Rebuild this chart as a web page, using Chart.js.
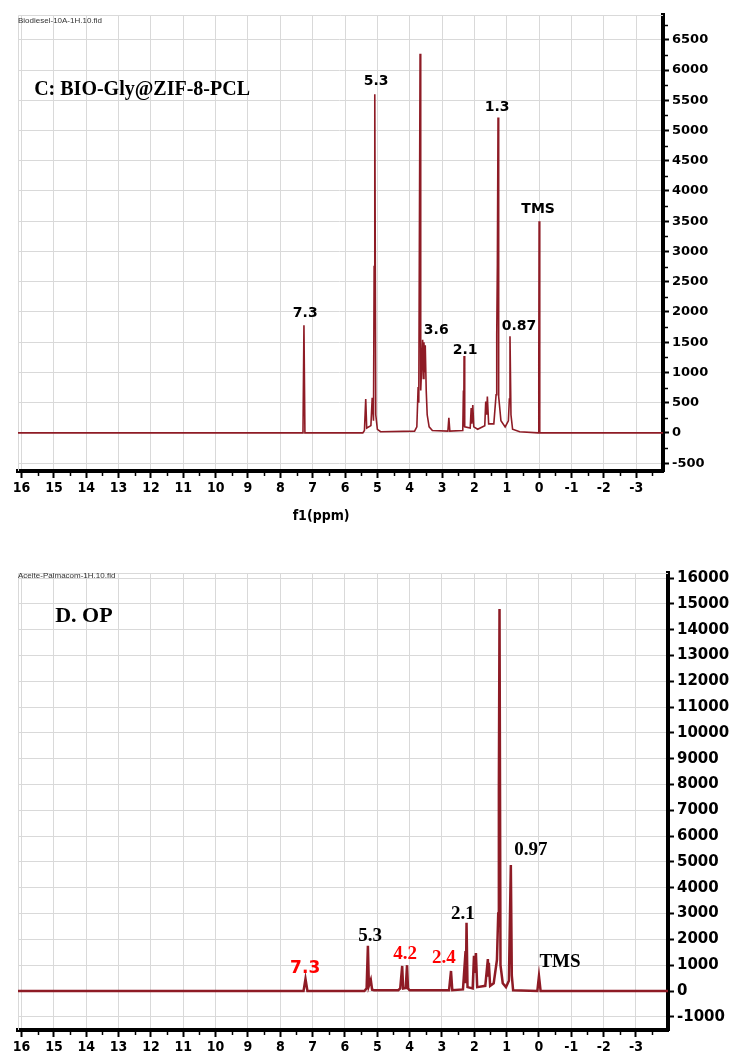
<!DOCTYPE html>
<html>
<head>
<meta charset="utf-8">
<title>1H NMR</title>
<script src="https://cdn.jsdelivr.net/npm/chart.js@4.4.0/dist/chart.umd.min.js"></script>
<style>
  html, body { margin: 0; padding: 0; background: #fff; }
  body { width: 734px; height: 1059px; position: relative; overflow: hidden; }
  canvas { position: absolute; left: 0; }
  #chartC { top: 0; }
  #chartD { top: 560px; }
</style>
</head>
<body>
<canvas id="chartC" width="734" height="530"></canvas>
<canvas id="chartD" width="734" height="499"></canvas>
<script>
// ------------------------------------------------------------
// data (ppm / intensity)
// ------------------------------------------------------------
const ppmTicks = [16, 15, 14, 13, 12, 11, 10, 9, 8, 7, 6, 5, 4, 3, 2, 1, 0, -1, -2, -3];

// C: BIO-Gly@ZIF-8-PCL
const cPpm = [16.11, 7.30, 7.27, 7.24, 5.45, 5.40, 5.36, 5.33, 5.20, 5.16, 5.12, 5.10, 5.08, 5.05, 5.00, 4.90,
  3.85, 3.78, 3.74, 3.72, 3.68, 3.66, 3.63, 3.60, 3.58, 3.56, 3.54, 3.52, 3.49, 3.46, 3.40, 3.30,
  2.82, 2.79, 2.76, 2.36, 2.34, 2.33, 2.32, 2.30, 2.13, 2.10, 2.08, 2.05, 2.02, 1.90,
  1.68, 1.65, 1.62, 1.60, 1.56, 1.40, 1.33, 1.31, 1.29, 1.27, 1.25, 1.18, 1.05,
  0.95, 0.92, 0.90, 0.87, 0.82, 0.60, 0.03, 0.01, 0.00, -0.02, -3.83];
const cInt = [0, 0, 1780, 0, 0, 40, 560, 80, 120, 580, 200, 2750, 5600, 300, 60, 20,
  30, 100, 760, 500, 6270, 700, 1100, 1540, 900, 1500, 1000, 1450, 700, 300, 100, 40,
  30, 250, 30, 40, 700, 100, 1270, 100, 80, 410, 150, 460, 100, 60,
  120, 520, 300, 600, 150, 150, 630, 1620, 2800, 5215, 600, 200, 100,
  200, 560, 1600, 300, 60, 20, 0, 1150, 3500, 0, 0];
const cYTicks = [-500, 0, 500, 1000, 1500, 2000, 2500, 3000, 3500, 4000, 4500, 5000, 5500, 6000, 6500];

// D. OP
const dPpm = [16.11, 7.28, 7.22, 7.16, 5.40, 5.33, 5.29, 5.26, 5.20, 5.16, 5.10,
  4.35, 4.29, 4.23, 4.20, 4.12, 4.08, 4.05, 4.00, 2.78, 2.72, 2.68,
  2.35, 2.27, 2.26, 2.24, 2.21, 2.05, 2.01, 1.98, 1.95, 1.91,
  1.66, 1.58, 1.57, 1.55, 1.51, 1.40, 1.30, 1.26, 1.24, 1.22, 1.19, 1.12, 1.02,
  0.93, 0.87, 0.84, 0.80, 0.05, 0.00, -0.05, -3.99];
const dInt = [0, 0, 470, 0, 0, 100, 1750, 200, 430, 50, 30,
  30, 100, 970, 100, 120, 1000, 100, 30, 30, 775, 30,
  60, 1550, 300, 2640, 150, 100, 1360, 700, 1470, 150,
  200, 1240, 600, 1090, 200, 300, 1200, 3000, 7830, 14800, 1000, 300, 150,
  400, 4880, 600, 30, 0, 580, 0, 0];
const dYTicks = [-1000, 0, 1000, 2000, 3000, 4000, 5000, 6000, 7000, 8000,
  9000, 10000, 11000, 12000, 13000, 14000, 15000, 16000];

// peak labels: [text, ppm, intensity]
const cLabels = [["5.3", 5.04, 5810], ["1.3", 1.30, 5380], ["TMS", 0.03, 3700], ["7.3", 7.23, 1980],
  ["3.6", 3.18, 1700], ["2.1", 2.29, 1370], ["0.87", 0.62, 1765]];
const dLabels = [["5.3", 5.22, 2130], ["2.1", 2.35, 2980], ["0.97", 0.25, 5460], ["TMS", -0.65, 1120]];
const dRedLabels = [["4.2", 4.14, 1430], ["2.4", 2.94, 1280]];
const dRedSans = [["7.3", 7.23, 850]];

// ------------------------------------------------------------
// plugins
// ------------------------------------------------------------
const SANS = "'DejaVu Sans', Verdana, sans-serif";
const COND = "'DejaVu Sans Condensed', 'DejaVu Sans', sans-serif";
const SERIF = "'Liberation Serif', 'Times New Roman', serif";
const LINE = "#8E1B25";
const GRID = "#d9d9d9";

// light frame on top / left of the plot area
const framePlugin = {
  id: "frame",
  beforeDatasetsDraw(chart) {
    const a = chart.chartArea, c = chart.ctx;
    c.save();
    c.strokeStyle = GRID;
    c.lineWidth = 1;
    c.beginPath();
    c.moveTo(a.left + 0.5, a.bottom);
    c.lineTo(a.left + 0.5, a.top + 0.5);
    c.lineTo(a.right, a.top + 0.5);
    c.stroke();
    c.restore();
  }
};

// minor ticks between the labelled ones
const minorPlugin = {
  id: "minor",
  afterDraw(chart, args, opts) {
    const c = chart.ctx, x = chart.scales.x, y = chart.scales.y, a = chart.chartArea;
    c.save();
    c.strokeStyle = "#000";
    c.lineWidth = 1.5;
    c.beginPath();
    (opts.x || []).forEach(v => {
      const px = Math.round(x.getPixelForValue(v)) + 0.5;
      c.moveTo(px, a.bottom); c.lineTo(px, a.bottom + 5);
    });
    (opts.y || []).forEach(v => {
      const py = Math.round(y.getPixelForValue(v)) + 0.5;
      c.moveTo(a.right, py); c.lineTo(a.right + 5, py);
    });
    c.stroke();
    c.restore();
  }
};

// text drawn at data coordinates
const textPlugin = {
  id: "texts",
  afterDatasetsDraw(chart, args, opts) {
    const c = chart.ctx, x = chart.scales.x, y = chart.scales.y;
    c.save();
    (opts.items || []).forEach(t => {
      c.font = t.font;
      c.fillStyle = t.color || "#000";
      c.textAlign = t.align || "center";
      c.textBaseline = "middle";
      c.fillText(t.text, x.getPixelForValue(t.ppm), y.getPixelForValue(t.val));
    });
    c.restore();
  }
};

function mid(arr) {
  const out = [];
  for (let i = 0; i < arr.length - 1; i++) out.push((arr[i] + arr[i + 1]) / 2);
  return out;
}

function makeSpectrum(id, o) {
  const pts = o.ppm.map((p, i) => ({ x: p, y: o.int[i] }));
  return new Chart(document.getElementById(id), {
    type: "line",
    data: { datasets: [{ data: pts, borderColor: LINE, borderWidth: o.lw, pointRadius: 0, tension: 0, fill: false }] },
    options: {
      responsive: false,
      animation: false,
      layout: { padding: { left: 18, top: o.padTop, right: 0, bottom: 0 } },
      plugins: {
        legend: { display: false },
        tooltip: { enabled: false },
        minor: { x: o.minorX, y: o.minorY },
        texts: { items: o.texts }
      },
      scales: {
        x: {
          type: "linear",
          reverse: true,
          min: o.xMin, max: 16.11,
          afterBuildTicks: s => { s.ticks = ppmTicks.map(v => ({ value: v })); },
          afterFit: s => { s.height = o.xHeight; },
          border: { display: true, color: "#000", width: 4 },
          grid: { color: GRID, lineWidth: 1, tickColor: "#000", tickLength: 7, tickWidth: 2 },
          ticks: { color: "#000", padding: 2, autoSkip: false, maxRotation: 0,
            callback: v => String(v),
            font: { family: COND, size: 14, weight: "bold" } }
        },
        y: {
          position: "right",
          min: o.yMin, max: o.yMax,
          afterBuildTicks: s => { s.ticks = o.yTicks.map(v => ({ value: v })); },
          afterFit: s => { s.width = o.yWidth; },
          border: { display: true, color: "#000", width: 4 },
          grid: { color: GRID, lineWidth: 1, tickColor: "#000", tickLength: 6, tickWidth: 2 },
          ticks: { color: "#000", padding: 3, callback: v => String(v),
            font: { family: SANS, size: o.ySize, weight: "bold" } }
        }
      }
    },
    plugins: [framePlugin, minorPlugin, textPlugin]
  });
}

// ------------------------------------------------------------
// C panel
// ------------------------------------------------------------
const cTexts = cLabels.map(l => ({ text: l[0], ppm: l[1], val: l[2], font: "bold 14px " + SANS }));
cTexts.push({ text: "C: BIO-Gly@ZIF-8-PCL", ppm: 15.61, val: 5680, align: "left", font: "bold 20px " + SERIF });
cTexts.push({ text: "Biodiesel-10A-1H.10.fid", ppm: 16.11, val: 6815, align: "left", font: "8px 'Liberation Sans', Arial, sans-serif", color: "#333" });
cTexts.push({ text: "f1(ppm)", ppm: 6.74, val: -1373, font: "bold 14px " + COND });

makeSpectrum("chartC", {
  ppm: cPpm, int: cInt, lw: 1.6,
  padTop: 15, xMin: -3.83, xHeight: 59, yWidth: 71,
  yMin: -630, yMax: 6910, yTicks: cYTicks, ySize: 13,
  minorX: mid(ppmTicks).concat([-3.5]), minorY: mid(cYTicks).concat([6750]),
  texts: cTexts
});

// ------------------------------------------------------------
// D panel
// ------------------------------------------------------------
const dTexts = dLabels.map(l => ({ text: l[0], ppm: l[1], val: l[2], font: "bold 19px " + SERIF }));
dRedLabels.forEach(l => dTexts.push({ text: l[0], ppm: l[1], val: l[2], color: "#ff0000", font: "bold 19px " + SERIF }));
dRedSans.forEach(l => dTexts.push({ text: l[0], ppm: l[1], val: l[2], color: "#ff0000", font: "bold 17px " + SANS }));
dTexts.push({ text: "D. OP", ppm: 14.96, val: 14500, align: "left", font: "bold 22px " + SERIF });
dTexts.push({ text: "Aceite-Palmacom-1H.10.fid", ppm: 16.11, val: 16085, align: "left", font: "8px 'Liberation Sans', Arial, sans-serif", color: "#333" });

makeSpectrum("chartD", {
  ppm: dPpm, int: dInt, lw: 2.5,
  padTop: 13, xMin: -3.99, xHeight: 29, yWidth: 66,
  yMin: -1511, yMax: 16195, yTicks: dYTicks, ySize: 15,
  minorX: mid(ppmTicks).concat([-3.5]), minorY: [],
  texts: dTexts
});
</script>
</body>
</html>
